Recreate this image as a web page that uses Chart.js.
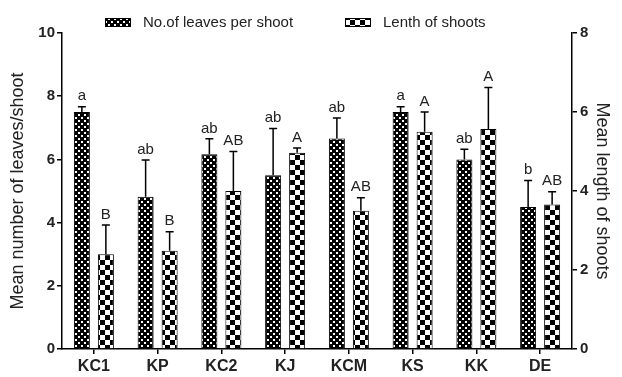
<!DOCTYPE html>
<html>
<head>
<meta charset="utf-8">
<script src="https://cdn.jsdelivr.net/npm/chart.js@4"></script>
<style>
  body { margin: 0; background: #fff; }
  #wrap { width: 622px; height: 377px; }
</style>
</head>
<body>
<div id="wrap"><canvas id="chart" width="622" height="377"></canvas></div>
<script>
const categories = ["KC1", "KP", "KC2", "KJ", "KCM", "KS", "KK", "DE"];
const leaves = [7.5, 4.82, 6.16, 5.5, 6.66, 7.5, 6.0, 4.49];
const leavesErr = [0.17, 1.16, 0.49, 1.48, 0.65, 0.17, 0.32, 0.84];
const leavesLetters = ["a", "ab", "ab", "ab", "ab", "a", "ab", "b"];
const lengths = [2.4, 2.49, 4.0, 4.97, 3.5, 5.5, 5.57, 3.66];
const lengthsErr = [0.74, 0.48, 1.0, 0.12, 0.33, 0.5, 1.05, 0.32];
const lengthsLetters = ["B", "B", "AB", "A", "AB", "A", "A", "AB"];
const leftTicks = [0, 2, 4, 6, 8, 10];
const rightTicks = [0, 2, 4, 6, 8];

function makePattern(kind) {
  const c = document.createElement("canvas");
  const ctx = c.getContext("2d");
  if (kind === "dots") {
    c.width = 6; c.height = 6;
    ctx.fillStyle = "#000";
    ctx.fillRect(0, 0, 6, 6);
    ctx.fillStyle = "#fff";
    ctx.fillRect(0, 0, 2, 2);
    ctx.fillRect(3, 3, 2, 2);
  } else {
    c.width = 10; c.height = 10;
    ctx.fillStyle = "#fff";
    ctx.fillRect(0, 0, 10, 10);
    ctx.fillStyle = "#000";
    ctx.fillRect(0, 0, 5, 5);
    ctx.fillRect(5, 5, 5, 5);
  }
  return ctx.createPattern(c, "repeat");
}
const dotPattern = makePattern("dots");
const checkPattern = makePattern("check");

const errorBars = {
  id: "errorBars",
  afterDatasetsDraw(chart) {
    const ctx = chart.ctx;
    const sets = [
      { idx: 0, err: leavesErr, letters: leavesLetters, axis: "y" },
      { idx: 1, err: lengthsErr, letters: lengthsLetters, axis: "y2" },
    ];
    ctx.save();
    sets.forEach((s) => {
      const meta = chart.getDatasetMeta(s.idx);
      const scale = chart.scales[s.axis];
      const data = chart.data.datasets[s.idx].data;
      meta.data.forEach((bar, i) => {
        const top = scale.getPixelForValue(data[i] + s.err[i]);
        ctx.strokeStyle = "#000";
        ctx.lineWidth = 1.5;
        ctx.beginPath();
        ctx.moveTo(bar.x, bar.y);
        ctx.lineTo(bar.x, top);
        ctx.moveTo(bar.x - 4, top);
        ctx.lineTo(bar.x + 4, top);
        ctx.stroke();
        ctx.fillStyle = "#222";
        ctx.font = "15px Arial, 'Liberation Sans', sans-serif";
        ctx.textAlign = "center";
        ctx.textBaseline = "bottom";
        ctx.fillText(s.letters[i], bar.x, top - 3);
      });
    });
    ctx.restore();
  },
};

const customLegend = {
  id: "customLegend",
  afterDraw(chart) {
    const ctx = chart.ctx;
    const items = [
      { x: 105, fill: dotPattern, text: "No.of leaves per shoot" },
      { x: 345, fill: checkPattern, text: "Lenth of shoots" },
    ];
    ctx.save();
    items.forEach((it) => {
      ctx.fillStyle = it.fill;
      ctx.fillRect(it.x, 18, 26, 9);
      ctx.strokeStyle = "#000";
      ctx.lineWidth = 1;
      ctx.strokeRect(it.x + 0.5, 18.5, 25, 8);
      ctx.fillStyle = "#222";
      ctx.font = "15px Arial, 'Liberation Sans', sans-serif";
      ctx.textAlign = "left";
      ctx.textBaseline = "middle";
      ctx.fillText(it.text, it.x + 38, 22.5);
    });
    ctx.restore();
  },
};

const tickFont = { family: "Arial, 'Liberation Sans', sans-serif", size: 15, weight: "bold" };
const titleFont = { family: "Arial, 'Liberation Sans', sans-serif", size: 18 };

new Chart(document.getElementById("chart"), {
  type: "bar",
  data: {
    labels: categories,
    datasets: [
      {
        label: "No.of leaves per shoot",
        data: leaves,
        yAxisID: "y",
        backgroundColor: dotPattern,
        borderColor: "#000",
        borderWidth: 1,
        categoryPercentage: 0.753,
        barPercentage: 0.667,
      },
      {
        label: "Lenth of shoots",
        data: lengths,
        yAxisID: "y2",
        backgroundColor: checkPattern,
        borderColor: "#000",
        borderWidth: 1,
        categoryPercentage: 0.753,
        barPercentage: 0.667,
      },
    ],
  },
  options: {
    responsive: false,
    animation: false,
    layout: { padding: { top: 33, left: 0, right: 0, bottom: 0 } },
    plugins: {
      legend: { display: false },
      tooltip: { enabled: false },
    },
    scales: {
      x: {
        grid: { display: true, drawOnChartArea: false, offset: false, color: "#000", tickLength: 5, lineWidth: 1.5 },
        border: { display: true, color: "#000", width: 1.5 },
        ticks: { color: "#222", font: { ...tickFont, size: 16 }, padding: 3, maxRotation: 0 },
        afterFit: (s) => { s.height = 28; },
      },
      y: {
        position: "left",
        min: 0,
        max: 10,
        afterBuildTicks: (s) => { s.ticks = leftTicks.map((v) => ({ value: v })); },
        grid: { display: true, drawOnChartArea: false, color: "#000", tickLength: 5, lineWidth: 1.5 },
        border: { display: true, color: "#000", width: 1.5 },
        ticks: { color: "#222", font: tickFont, padding: 2 },
        title: { display: true, text: "Mean number of leaves/shoot", color: "#222", font: titleFont, padding: 7 },
        afterFit: (s) => { s.width = 62; },
      },
      y2: {
        position: "right",
        min: 0,
        max: 8,
        afterBuildTicks: (s) => { s.ticks = rightTicks.map((v) => ({ value: v })); },
        grid: { display: true, drawOnChartArea: false, color: "#000", tickLength: 5, lineWidth: 1.5 },
        border: { display: true, color: "#000", width: 1.5 },
        ticks: { color: "#222", font: tickFont, padding: 3 },
        title: { display: true, text: "Mean length of shoots", color: "#222", font: titleFont, padding: 9 },
        afterFit: (s) => { s.width = 50; },
      },
    },
  },
  plugins: [errorBars, customLegend],
});
</script>
</body>
</html>
